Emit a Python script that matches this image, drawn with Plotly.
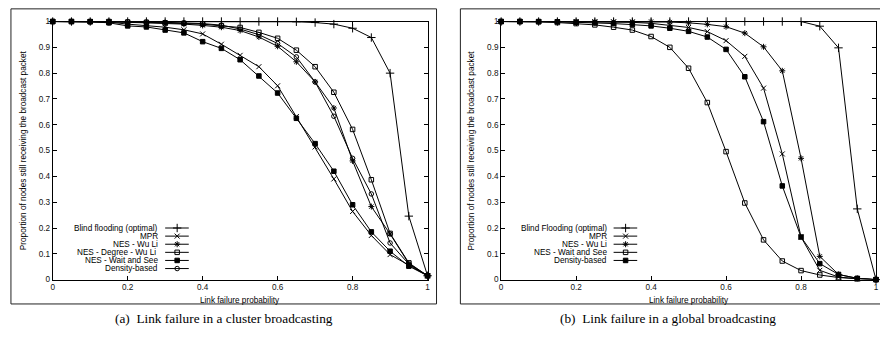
import plotly.graph_objects as go

# ---------------- data ----------------
link_failure = [0.0, 0.05, 0.1, 0.15, 0.2, 0.25, 0.3, 0.35, 0.4, 0.45, 0.5,
                0.55, 0.6, 0.65, 0.7, 0.75, 0.8, 0.85, 0.9, 0.95, 1.0]

# (a) cluster broadcasting
a_blind = [1, 1, 1, 1, 1, 1, 1, 1, 1, 1, 1, 1, 1, 0.999, 0.996, 0.99, 0.974, 0.938, 0.80, 0.246, 0.015]
a_mpr = [1, 1, 1, 0.998, 0.99, 0.985, 0.978, 0.968, 0.952, 0.912, 0.869, 0.825, 0.751, 0.632, 0.514, 0.39, 0.264, 0.171, 0.097, 0.056, 0.015]
a_nes_wuli = [1, 1, 1, 1, 0.997, 0.995, 0.993, 0.99, 0.985, 0.978, 0.965, 0.94, 0.904, 0.844, 0.766, 0.665, 0.46, 0.283, 0.177, 0.062, 0.015]
a_nes_degree = [1, 1, 1, 1, 0.998, 0.997, 0.995, 0.993, 0.99, 0.983, 0.977, 0.958, 0.935, 0.889, 0.825, 0.726, 0.582, 0.387, 0.179, 0.065, 0.015]
a_nes_wait = [1, 1, 0.999, 0.995, 0.983, 0.979, 0.967, 0.956, 0.922, 0.896, 0.852, 0.789, 0.723, 0.625, 0.527, 0.42, 0.29, 0.185, 0.11, 0.052, 0.015]
a_density = [1, 1, 1, 1, 0.999, 0.998, 0.997, 0.995, 0.992, 0.986, 0.971, 0.949, 0.915, 0.863, 0.766, 0.633, 0.47, 0.332, 0.142, 0.06, 0.015]

# (b) global broadcasting
b_blind = [1, 1, 1, 1, 1, 1, 1, 1, 1, 1, 1, 1, 1, 1, 1, 1, 1, 0.982, 0.898, 0.274, 0.0]
b_mpr = [1, 1, 1, 1, 1, 0.999, 0.998, 0.997, 0.993, 0.985, 0.977, 0.961, 0.926, 0.865, 0.742, 0.487, 0.165, 0.036, 0.01, 0.003, 0.0]
b_nes_wuli = [1, 1, 1, 1, 1, 1, 1, 1, 1, 0.998, 0.995, 0.989, 0.98, 0.955, 0.902, 0.809, 0.47, 0.09, 0.02, 0.005, 0.0]
b_nes_wait = [1, 1, 0.999, 0.996, 0.992, 0.987, 0.978, 0.967, 0.942, 0.90, 0.819, 0.686, 0.496, 0.297, 0.154, 0.072, 0.035, 0.018, 0.008, 0.003, 0.0]
b_density = [1, 1, 1, 0.999, 0.997, 0.995, 0.992, 0.988, 0.983, 0.974, 0.962, 0.94, 0.892, 0.786, 0.612, 0.363, 0.165, 0.062, 0.02, 0.005, 0.0]

a_names = ["Blind flooding (optimal)", "MPR", "NES - Wu Li", "NES - Degree - Wu Li ",
           "NES - Wait and See", "Density-based"]
a_series = [a_blind, a_mpr, a_nes_wuli, a_nes_degree, a_nes_wait, a_density]
a_symbols = ["cross-thin", "x-thin", "asterisk", "square-open", "square", "circle-open"]

b_names = ["Blind Flooding (optimal)", "MPR", "NES - Wu Li", "NES - Wait and See", "Density-based"]
b_series = [b_blind, b_mpr, b_nes_wuli, b_nes_wait, b_density]
b_symbols = ["cross-thin", "x-thin", "asterisk", "square-open", "square"]

captions = ["(a)  Link failure in a cluster broadcasting", "(b)  Link failure in a global broadcasting"]
x_title = "Link failure probability"
y_title = "Proportion of nodes still receiving the broadcast packet"

# ---------------- layout helpers ----------------
W, H = 880, 345
def px(x):
    return x / W
def py(y):
    return 1 - y / H

SANS = "Liberation Sans, Arial, sans-serif"
SERIF = "Liberation Serif, Times New Roman, serif"
FS = 8.2
marker_size = {"cross-thin": 6, "x-thin": 5, "asterisk": 5, "square-open": 4.5,
               "square": 4.5, "circle-open": 4.5}

fig = go.Figure()

panels = [
    dict(names=a_names, series=a_series, symbols=a_symbols, xa="x", ya="y",
         plot=(51, 428), frame=(9, 437), ytitle_x=21.7, cap_x=223),
    dict(names=b_names, series=b_series, symbols=b_symbols, xa="x2", ya="y2",
         plot=(502, 879), frame=(461, 884), ytitle_x=472.5, cap_x=670),
]
PLOT_TOP, PLOT_BOT = 18, 283

# legend layout (data units inside each panel)
LEG_TEXT_X = 0.287
LEG_LINE = (0.300, 0.363)
LEG_MARK_X = 0.332
LEG_Y0 = 0.2
LEG_DY = 8.33 / 265

shapes = []
annotations = []
for i, p in enumerate(panels):
    for name, ys, sym in zip(p["names"], p["series"], p["symbols"]):
        fig.add_trace(go.Scatter(
            x=link_failure, y=ys, mode="lines+markers", name=name,
            xaxis=p["xa"], yaxis=p["ya"], showlegend=False, cliponaxis=False,
            line=dict(color="black", width=1),
            marker=dict(symbol=sym, size=marker_size[sym], color="black",
                        line=dict(color="black", width=1))))
    # custom gnuplot-like legend (text right-aligned, sample to the right)
    for k, (name, sym) in enumerate(zip(p["names"], p["symbols"])):
        yy = LEG_Y0 - k * LEG_DY
        annotations.append(dict(x=LEG_TEXT_X, y=yy, xref=p["xa"], yref=p["ya"],
                                text=name, showarrow=False, xanchor="right",
                                yanchor="middle", font=dict(family=SANS, size=FS, color="black")))
        shapes.append(dict(type="line", xref=p["xa"], yref=p["ya"], x0=LEG_LINE[0], x1=LEG_LINE[1],
                           y0=yy, y1=yy, line=dict(color="black", width=1)))
        fig.add_trace(go.Scatter(
            x=[LEG_MARK_X], y=[yy], mode="markers", xaxis=p["xa"], yaxis=p["ya"],
            showlegend=False, hoverinfo="skip",
            marker=dict(symbol=sym, size=marker_size[sym], color="black",
                        line=dict(color="black", width=1))))
    # outer frame
    shapes.append(dict(type="rect", xref="paper", yref="paper",
                       x0=px(p["frame"][0]), x1=px(p["frame"][1]), y0=py(308), y1=py(5),
                       line=dict(color="#222", width=1)))
    cx = (p["plot"][0] + p["plot"][1]) / 2
    annotations.append(dict(x=px(cx), y=py(304), xref="paper", yref="paper", text=x_title,
                            showarrow=False, xanchor="center", yanchor="middle",
                            font=dict(family=SANS, size=FS, color="black")))
    annotations.append(dict(x=px(p["ytitle_x"]), y=py((PLOT_TOP + PLOT_BOT) / 2), xref="paper",
                            yref="paper", text=y_title, textangle=-90, showarrow=False,
                            xanchor="center", yanchor="middle",
                            font=dict(family=SANS, size=FS, color="black")))
    annotations.append(dict(x=px(p["cap_x"]), y=py(323), xref="paper", yref="paper", text=captions[i],
                            showarrow=False, xanchor="center", yanchor="middle",
                            font=dict(family=SERIF, size=13.3, color="black")))

axis_common = dict(range=[0, 1], showgrid=False, zeroline=False, showline=True,
                   linecolor="black", linewidth=1, mirror="ticks", ticks="inside",
                   ticklen=4, tickwidth=1, tickcolor="black", ticklabeloverflow="allow",
                   tickfont=dict(family=SANS, size=FS, color="#111"))

fig.update_layout(
    width=W, height=H, autosize=False,
    margin=dict(l=0, r=0, t=0, b=0),
    paper_bgcolor="white", plot_bgcolor="white",
    xaxis=dict(domain=[px(51), px(428)], anchor="y", dtick=0.2, **axis_common),
    yaxis=dict(domain=[py(PLOT_BOT), py(PLOT_TOP)], anchor="x", dtick=0.1, **axis_common),
    xaxis2=dict(domain=[px(502), px(879)], anchor="y2", dtick=0.2, **axis_common),
    yaxis2=dict(domain=[py(PLOT_BOT), py(PLOT_TOP)], anchor="x2", dtick=0.1, **axis_common),
    shapes=shapes, annotations=annotations, showlegend=False,
)

page_fix = ("var h=document.documentElement,b=document.body;"
            "h.style.margin='0';h.style.padding='0';h.style.overflow='hidden';"
            "b.style.margin='0';b.style.padding='0';b.style.overflow='hidden';")
fig.write_html("out.html", config={"displayModeBar": False, "staticPlot": True},
               post_script=page_fix)
